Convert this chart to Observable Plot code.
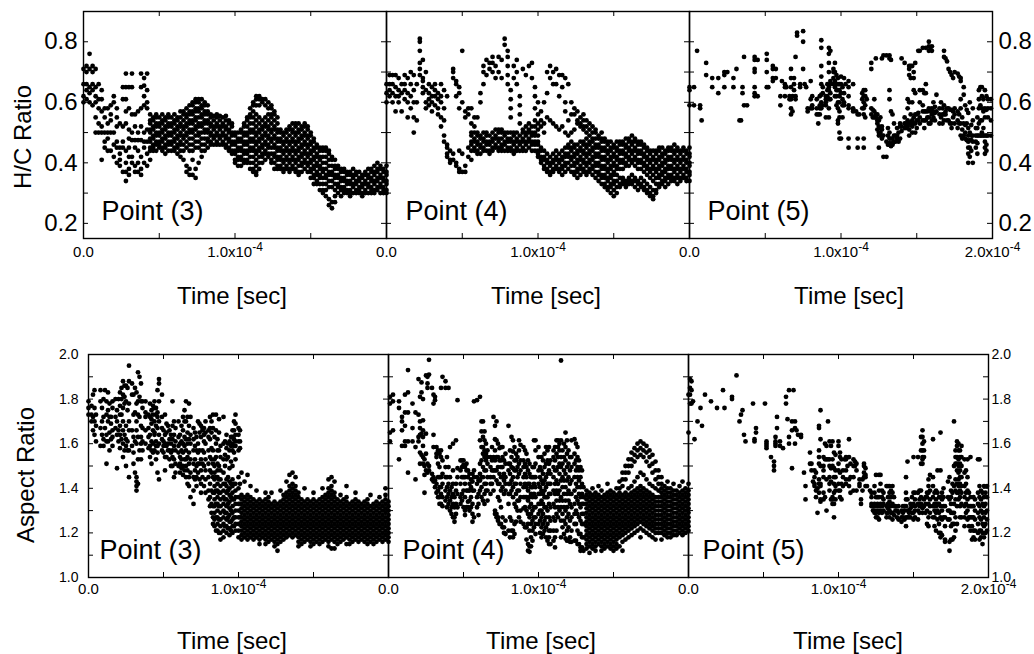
<!DOCTYPE html>
<html><head><meta charset="utf-8">
<script src="https://cdn.jsdelivr.net/npm/d3@7"></script>
<script src="https://cdn.jsdelivr.net/npm/@observablehq/plot@0.6"></script>
<style>
body{margin:0;background:#fff;}
#fig{position:relative;width:1034px;height:654px;overflow:hidden;background:#fff;}
</style></head><body><div id="fig"></div>
<script>
// time in microseconds, then the values observed at that time
const hc3 = [
[0,[.71,.66,.62,.60]],[2,[.70,.72,.66,.64,.61]],[4,[.76,.71,.65,.60,.63]],[6,[.72,.70,.64,.59,.66]],[8,[.71,.65,.62,.60,.55,.50]],[10,[.66,.61,.58,.53,.50]],[12,[.64,.61,.57,.52,.50,.41]],[14,[.58,.55,.50,.47,.45]],[16,[.58,.53,.50,.48,.44]],[18,[.59,.56,.54,.50,.44]],[20,[.62,.60,.50,.46,.42]],[22,[.58,.55,.52,.47,.45,.40]],[24,[.53,.45,.43,.41,.39]],[26,[.65,.61,.52,.47,.45,.37]],[28,[.695,.65,.61,.57,.53,.44,.40,.37,.34]],[30,[.65,.58,.51,.48,.45,.42,.38,.36]],[32,[.695,.65,.56,.50,.475,.42,.40]],[34,[.56,.52,.475,.45,.39,.37]],[36,[.57,.50,.475,.44,.40,.37]],[38,[.695,.65,.58,.52,.475,.42,.38,.36]],[40,[.68,.655,.62,.59,.50,.47,.45,.40]],[42,[.695,.64,.60,.58,.51,.47,.43,.39]],
[44,[.56,.54,.53,.51,.50,.48,.47,.45,.44,.41]],[46,[.55,.54,.52,.51,.49,.48,.46,.45,.44]],[48,[.56,.55,.53,.52,.50,.49,.47,.46,.44]],[50,[.55,.53,.52,.50,.49,.47,.46,.45]],[52,[.56,.54,.53,.51,.50,.48,.47,.45,.44]],[54,[.55,.54,.52,.51,.49,.48,.46,.45,.43]],[56,[.56,.55,.53,.52,.50,.49,.47,.46,.44]],[58,[.55,.53,.52,.50,.49,.47,.46,.44]],[60,[.56,.54,.53,.51,.50,.48,.47,.45,.44]],[62,[.55,.54,.52,.51,.49,.48,.46,.45,.43]],[64,[.57,.55,.53,.52,.50,.49,.47,.46,.44,.42]],[66,[.57,.56,.54,.52,.51,.49,.48,.46,.44,.41]],[68,[.58,.56,.55,.53,.52,.50,.49,.47,.45,.39,.37]],[70,[.59,.57,.56,.54,.53,.51,.50,.48,.46,.44,.38,.36]],[72,[.60,.59,.57,.56,.54,.53,.51,.50,.48,.46,.44,.41,.36]],[74,[.61,.60,.58,.57,.55,.54,.52,.51,.49,.47,.45,.38,.35]],[76,[.61,.60,.58,.57,.55,.53,.52,.50,.49,.47,.45,.40]],[78,[.61,.59,.58,.56,.55,.53,.52,.50,.48,.46,.44,.42]],[80,[.60,.59,.57,.56,.54,.53,.51,.50,.48,.46,.44]],[82,[.59,.57,.56,.54,.53,.51,.50,.48,.47,.45]],[84,[.56,.55,.53,.52,.50,.49,.47,.46]],[86,[.555,.54,.52,.51,.49,.48,.46]],[88,[.56,.55,.53,.52,.50,.49,.47,.46]],[90,[.555,.54,.52,.51,.49,.48,.46]],[92,[.55,.53,.52,.50,.49,.47,.46]],[94,[.555,.54,.52,.51,.49,.48,.46,.45]],[96,[.54,.53,.51,.50,.48,.47,.45,.44]],[98,[.53,.52,.50,.49,.47,.46,.44,.43]],
[100,[.50,.49,.47,.46,.44,.43,.41,.40]],[102,[.50,.48,.47,.45,.44,.42,.41,.39]],[104,[.51,.50,.48,.47,.45,.44,.42,.41,.39]],[106,[.53,.52,.50,.49,.47,.46,.44,.43,.41,.40]],[108,[.55,.54,.52,.50,.49,.47,.46,.44,.43,.41,.40]],[110,[.58,.56,.55,.53,.51,.50,.48,.47,.45,.44,.42,.40,.38]],[112,[.60,.59,.57,.55,.53,.51,.50,.48,.47,.45,.44,.42,.40,.38,.37]],[114,[.62,.61,.59,.56,.54,.52,.50,.49,.47,.46,.44,.43,.41,.39,.37,.36]],[116,[.62,.61,.59,.55,.53,.51,.50,.48,.47,.45,.44,.42,.40,.38]],[118,[.61,.60,.54,.52,.51,.49,.48,.46,.45,.43,.42,.40]],[120,[.61,.59,.55,.53,.52,.50,.49,.47,.46,.44,.43,.41]],[122,[.60,.58,.56,.54,.52,.51,.49,.48,.46,.45,.43,.42]],[124,[.59,.58,.56,.55,.53,.51,.50,.48,.47,.45,.43,.41,.40]],[126,[.57,.56,.54,.52,.51,.49,.48,.46,.45,.43,.42,.40,.38]],[128,[.55,.53,.51,.50,.48,.47,.45,.44,.42,.41,.39,.38]],[130,[.51,.50,.48,.47,.45,.44,.42,.41,.39,.38]],[132,[.50,.49,.47,.46,.44,.43,.41,.40,.38,.37]],[134,[.51,.50,.48,.47,.45,.44,.42,.41,.39,.38]],[136,[.52,.51,.49,.47,.46,.44,.43,.41,.40,.38,.37]],[138,[.53,.51,.50,.48,.47,.45,.44,.42,.41,.39,.38]],[140,[.53,.52,.50,.49,.47,.46,.44,.43,.41,.40,.38,.37]],[142,[.53,.51,.50,.48,.47,.45,.44,.42,.41,.39,.37,.36]],[144,[.52,.51,.49,.48,.46,.45,.43,.42,.40,.39,.37]],[146,[.53,.52,.50,.49,.47,.46,.44,.43,.41,.40,.38]],[148,[.52,.51,.49,.48,.46,.45,.43,.42,.40,.39,.37]],[150,[.50,.49,.47,.46,.44,.43,.41,.40,.38,.37,.35]],[152,[.48,.47,.45,.44,.42,.41,.39,.38,.36,.35,.33]],[154,[.46,.45,.43,.42,.40,.39,.37,.36,.34,.33]],[156,[.45,.44,.42,.41,.39,.38,.36,.35,.33,.31]],[158,[.45,.44,.42,.40,.38,.37,.35,.33,.31,.30]],[160,[.45,.44,.42,.40,.38,.36,.35,.33,.31,.29]],[162,[.44,.43,.41,.39,.37,.36,.34,.32,.28,.26]],[164,[.42,.41,.39,.37,.36,.34,.32,.27,.25]],[166,[.41,.39,.38,.36,.35,.33,.31,.29,.27]],[168,[.39,.38,.36,.35,.33,.32,.30]],[170,[.38,.37,.35,.34,.32,.31,.29]],[172,[.38,.37,.35,.34,.32,.31,.30]],[174,[.37,.36,.34,.33,.31,.30]],[176,[.37,.36,.34,.33,.31,.30,.29]],[178,[.38,.36,.35,.33,.32,.30]],[180,[.37,.36,.34,.33,.31,.30]],[182,[.37,.35,.34,.32,.31,.30]],[184,[.36,.35,.33,.32,.30,.29]],[186,[.37,.36,.34,.33,.31,.30]],[188,[.38,.36,.35,.33,.32,.30]],[190,[.38,.37,.35,.34,.32,.31,.30]],[192,[.39,.37,.36,.34,.33,.31,.30]],[194,[.40,.38,.37,.35,.34,.32,.31]],[196,[.39,.38,.36,.35,.33,.32,.30]],[198,[.38,.37,.35,.34,.32,.31,.30]],[200,[.39,.37,.36,.34,.33,.31,.30]]
];
const hc4 = [
[0,[.66,.63,.60]],[2,[.69,.66,.64,.62]],[4,[.69,.66,.63,.60]],[6,[.69,.65,.62,.57]],[8,[.68,.64,.62,.60]],[10,[.66,.63,.57]],[12,[.69,.66,.64,.61]],[14,[.68,.63,.60,.55]],[16,[.70,.66,.62,.58]],[18,[.69,.64,.60,.55,.50]],[20,[.66,.60,.54]],[22,[.81,.80,.77,.73,.71,.69]],[24,[.74,.68,.67,.65,.63]],[26,[.70,.64,.60,.58]],[28,[.66,.63,.61,.59]],[30,[.65,.62,.60,.57]],[32,[.66,.64,.62,.59]],[34,[.63,.61,.58,.56]],[36,[.66,.62,.60,.55,.52]],[38,[.64,.58,.54,.49,.47]],[40,[.62,.46,.45,.43,.42]],[42,[.44,.41,.40]],[44,[.71,.70,.68,.43,.41]],[46,[.67,.66,.62,.40,.39]],[48,[.65,.63,.58,.44,.38,.37]],[50,[.77,.60,.43,.37]],[52,[.57,.55,.39,.37]],[54,[.58,.56,.45,.42]],
[56,[.58,.53,.50,.49,.47,.46,.44,.41]],[58,[.55,.52,.50,.48,.47,.45,.44]],[60,[.55,.50,.49,.47,.46,.44,.43]],[62,[.63,.60,.49,.48,.46,.45,.43]],[64,[.72,.70,.66,.50,.48,.47,.45,.44]],[66,[.74,.69,.50,.49,.47,.46,.44]],[68,[.73,.71,.49,.47,.46,.44,.43]],[70,[.75,.73,.70,.50,.48,.47,.45,.44]],[72,[.72,.68,.51,.49,.48,.46,.45]],[74,[.75,.70,.51,.50,.48,.47,.45,.44]],[76,[.74,.68,.51,.50,.48,.46,.45,.44]],[78,[.81,.79,.50,.49,.47,.46,.44]],[80,[.77,.75,.72,.69,.66,.50,.48,.47,.45,.44]],[82,[.64,.61,.58,.55,.50,.48,.47,.45,.44]],[84,[.72,.68,.50,.49,.47,.46,.44,.43]],[86,[.74,.70,.66,.50,.48,.47,.45,.44]],[88,[.62,.59,.56,.53,.49,.47,.46,.44]],[90,[.71,.51,.50,.48,.47,.45,.44]],[92,[.69,.52,.50,.49,.47,.46,.44]],[94,[.72,.53,.51,.50,.48,.47,.45]],[96,[.73,.68,.52,.50,.49,.47,.46,.44]],[98,[.65,.62,.58,.54,.52,.50,.49,.47,.46,.44]],
[100,[.60,.56,.53,.51,.49,.47,.46,.44,.43,.42]],[102,[.57,.54,.52,.45,.44,.42,.41,.40]],[104,[.60,.53,.50,.44,.42,.41,.39,.38]],[106,[.70,.63,.55,.43,.41,.40,.38,.37]],[108,[.72,.68,.54,.42,.40,.39,.37,.36]],[110,[.70,.66,.53,.43,.41,.40,.38,.37]],[112,[.71,.66,.52,.44,.42,.41,.39,.38]],[114,[.69,.62,.51,.43,.41,.40,.38,.37]],[116,[.69,.65,.52,.44,.42,.41,.39,.38,.36]],[118,[.68,.60,.57,.50,.45,.43,.42,.40,.39,.37]],[120,[.66,.54,.49,.46,.45,.43,.42,.40,.38]],[122,[.60,.56,.50,.47,.45,.44,.42,.41,.39,.37]],[124,[.58,.56,.51,.46,.45,.43,.42,.40,.39,.37,.36]],[126,[.57,.54,.53,.46,.44,.43,.41,.40,.38,.37,.35]],[128,[.55,.53,.52,.47,.45,.44,.42,.41,.39,.38,.36]],[130,[.56,.54,.52,.51,.47,.46,.44,.43,.41,.40,.38,.37]],[132,[.54,.52,.50,.48,.46,.45,.43,.42,.40,.39,.37,.36]],[134,[.53,.51,.49,.47,.46,.44,.43,.41,.40,.38,.37]],[136,[.52,.50,.48,.47,.45,.44,.42,.41,.39,.38,.36]],[138,[.51,.50,.48,.46,.45,.43,.42,.40,.39,.37,.35]],[140,[.49,.48,.46,.45,.43,.42,.40,.39,.37,.36,.34]],[142,[.50,.48,.47,.45,.44,.42,.41,.39,.38,.36,.35,.33]],[144,[.48,.47,.45,.44,.42,.41,.39,.38,.36,.35,.33,.32]],[146,[.47,.46,.44,.43,.41,.40,.38,.37,.35,.34,.32,.31]],[148,[.47,.45,.44,.42,.41,.39,.38,.36,.35,.33,.32,.30]],[150,[.46,.45,.43,.42,.40,.39,.37,.36,.34,.33,.31,.29]],[152,[.47,.45,.44,.42,.41,.39,.38,.36,.34,.32,.30]],[154,[.47,.46,.44,.43,.41,.40,.38,.35,.33,.32]],[156,[.47,.46,.44,.43,.41,.40,.38,.35,.34,.33]],[158,[.48,.46,.45,.43,.42,.40,.39,.34,.33,.32]],[160,[.48,.47,.45,.44,.42,.41,.39,.35,.34,.33]],[162,[.49,.47,.46,.44,.43,.41,.40,.36,.34,.33]],[164,[.48,.47,.45,.44,.42,.41,.39,.35,.34,.32]],[166,[.47,.46,.44,.43,.41,.40,.38,.34,.33,.31]],[168,[.47,.46,.44,.43,.41,.40,.38,.35,.33,.32]],[170,[.46,.45,.43,.42,.40,.39,.37,.34,.32,.31]],[172,[.45,.44,.42,.41,.39,.38,.36,.33,.31,.30]],[174,[.44,.43,.41,.40,.38,.37,.35,.32,.30,.29]],[176,[.44,.42,.41,.39,.38,.36,.34,.31,.29,.28]],[178,[.44,.43,.41,.40,.38,.37,.35,.33,.31,.30]],[180,[.45,.44,.42,.41,.39,.38,.36,.35,.33,.32]],[182,[.45,.43,.42,.40,.39,.37,.36,.34,.33]],[184,[.44,.43,.41,.40,.38,.37,.35,.34,.32]],[186,[.45,.44,.42,.41,.39,.38,.36,.35,.33]],[188,[.45,.44,.42,.41,.39,.38,.36,.35,.34]],[190,[.46,.44,.43,.41,.40,.38,.37,.35,.34]],[192,[.45,.44,.42,.41,.39,.38,.36,.35,.33]],[194,[.44,.43,.41,.40,.38,.37,.35,.34]],[196,[.45,.44,.42,.41,.39,.38,.36,.35]],[198,[.44,.43,.41,.40,.38,.37,.35,.34]],[200,[.45,.43,.42,.40,.39,.37,.36,.34]]
];
const hc5 = [
[0,[.65,.64,.59]],[3,[.65,.59]],[5,[.77]],[7,[.59,.58]],[8,[.54]],[11,[.73,.69]],[15,[.68,.65]],[19,[.68,.63]],[23,[.70,.69,.65]],[25,[.70]],[29,[.68,.65]],[31,[.71]],[33,[.54]],[34,[.54]],[35,[.65,.63]],[36,[.75,.59]],[38,[.59]],
[43,[.75,.74,.71,.70,.65,.63,.62]],[45,[.62,.74]],[51,[.76,.74,.70,.65]],[52,[.65]],[55,[.72,.71,.68,.67]],[57,[.71,.68]],[60,[.62,.59]],[61,[.67]],[63,[.66,.65,.62]],[64,[.65]],[66,[.62,.61]],[67,[.71,.68,.65,.61,.58,.56]],[68,[.62,.57]],[69,[.68,.66,.64]],[70,[.75,.62,.61]],[71,[.83,.82]],[73,[.66,.65]],[75,[.835,.80,.71]],[76,[.66]],[77,[.65]],[78,[.58,.57]],[80,[.67,.61,.58]],[81,[.62,.59,.58]],[84,[.61,.58,.56]],[85,[.53,.56]],[86,[.62,.59,.58,.56]],[87,[.805,.78,.72,.685,.66,.625,.60,.58]],[88,[.65,.63,.59]],[90,[.62,.61,.60,.59,.55]],[91,[.66,.64,.62]],[92,[.78,.76,.73,.70,.65,.64,.61,.58,.55]],[93,[.77,.67,.66,.63,.61]],[95,[.71,.70,.68,.66]],[96,[.73,.70,.67,.65,.62]],[97,[.69,.66,.64,.62,.59]],[98,[.68,.66,.64,.60,.58,.54,.53]],[99,[.66,.64,.62,.60,.57,.55,.50,.48]],[100,[.685,.66,.63,.48]],[101,[.65,.61,.59,.55]],[102,[.68,.63,.60,.59]],[103,[.66]],[105,[.67,.65,.62,.59,.58,.48,.45]],[108,[.66,.58,.575,.57]],[110,[.57]],[111,[.56,.48,.45]],[112,[.56]],[114,[.63,.61,.58]],[115,[.64,.62,.60,.58,.56,.48,.45]],[116,[.64,.62,.59,.55]],[117,[.61]],[120,[.73,.71,.58,.56]],[121,[.575,.55]],[122,[.61,.57,.55]],[123,[.745,.56,.55]],[124,[.56,.54,.53,.51]],[125,[.54,.52,.50,.49,.45]],[126,[.55,.515,.50]],[127,[.745,.52,.51,.49,.48]],[128,[.755,.49,.42]],[130,[.755,.47,.42]],[131,[.515,.49,.46]],[132,[.755,.745,.64,.61,.50,.48,.465,.46]],[133,[.74,.57,.48,.455]],[134,[.56,.48,.465,.46]],[135,[.53,.49,.47]],[136,[.49,.47]],[137,[.515,.49,.48]],[138,[.50,.47]],[139,[.53,.52,.48]],[140,[.745,.52,.505]],[142,[.73,.55,.53,.515]],[143,[.53,.52,.515]],[144,[.61,.58,.54,.52]],[145,[.72,.71,.69,.60,.53,.51,.49]],[146,[.72,.68,.56,.53]],[147,[.72,.60,.54,.52,.50]],[148,[.70,.68,.64,.55,.53]],[149,[.73,.63,.56,.53,.50]],[150,[.56,.54,.515]],[151,[.77,.565,.54]],[152,[.77,.64,.60,.55,.53]],[154,[.78,.64,.59,.57,.54]],[155,[.63,.57,.54,.515]],[156,[.78,.66,.63,.57,.54]],[157,[.57,.55]],[158,[.80,.785,.77,.58,.55,.53]],[159,[.78,.57,.53]],[160,[.785,.77,.58,.56,.54]],[161,[.60,.57,.55]],[162,[.585,.565,.54]],[163,[.625,.57]],[165,[.58,.56,.53]],[166,[.60,.55]],[167,[.58,.56,.53]],[168,[.77,.75,.59,.56,.54]],[169,[.745,.57,.56]],[170,[.735,.58,.54]],[171,[.71,.58,.54]],[172,[.70,.575,.53]],[173,[.69,.575,.53,.515]],[174,[.68,.57,.55]],[175,[.70,.58,.56,.53]],[177,[.695,.57,.54,.515]],[178,[.685,.56,.53]],[179,[.68,.67,.61,.58,.53,.49]],[180,[.55,.51,.48]],[181,[.65,.625,.53,.49]],[182,[.59,.525,.50,.48]],[183,[.575,.53,.475]],[184,[.565,.515,.49,.47,.45,.43,.40]],[185,[.60,.50,.475,.45,.42]],[186,[.525,.49,.475,.44]],[187,[.58,.54,.49,.47,.40]],[189,[.515,.49,.47,.45]],[190,[.55,.515,.49,.465,.43]],[191,[.64,.61,.58,.53,.49]],[192,[.65,.59,.54,.49]],[193,[.65,.62,.58,.54,.50,.49]],[194,[.61,.57,.515,.49]],[195,[.64,.58,.55,.49,.47,.45,.43]],[196,[.62,.575,.49,.46,.44]],[197,[.61,.58,.55,.49]],[199,[.61,.58,.54,.49]]
];
const ar3 = [
[0,[1.79,1.76,1.73]],[2,[1.77,1.73,1.70]],[3,[1.82,1.72,1.66]],[4,[1.84,1.76,1.70,1.64]],[5,[1.73,1.68,1.61]],[8,[1.84,1.79,1.67,1.59]],[9,[1.76,1.70,1.64]],[10,[1.80,1.72,1.62,1.59]],[11,[1.84,1.67]],[12,[1.79,1.73,1.64,1.61,1.51]],[13,[1.83,1.75,1.70,1.61]],[14,[1.78,1.72,1.65,1.57]],[15,[1.72,1.69,1.62]],[16,[1.79,1.76,1.66,1.63,1.59]],[18,[1.80,1.72,1.67]],[19,[1.75,1.70,1.64,1.49]],[20,[1.80,1.66,1.61]],[21,[1.83,1.77,1.73,1.68,1.64,1.58]],[22,[1.85,1.80,1.73,1.62]],[23,[1.88,1.82,1.76,1.70,1.66,1.60,1.54]],[24,[1.86,1.81,1.78,1.64,1.57]],[25,[1.86,1.79,1.68,1.62,1.59,1.50]],[26,[1.85,1.75,1.61,1.57]],[27,[1.95,1.88,1.78,1.70,1.66,1.57,1.45]],[29,[1.87,1.82,1.66,1.59]],[30,[1.82,1.73,1.63,1.56,1.51]],[31,[1.85,1.74,1.61,1.47]],[32,[1.83,1.78,1.70,1.66,1.60,1.45,1.43,1.41,1.39]],[33,[1.92,1.79,1.73,1.63,1.53,1.42]],[34,[1.90,1.81,1.72,1.57]],[35,[1.87,1.79,1.68,1.63,1.60,1.53]],[36,[1.79,1.76,1.67,1.61,1.57]],[38,[1.79,1.74,1.72,1.66,1.60]],[40,[1.73,1.67,1.63,1.58]],[41,[1.78,1.72,1.64,1.59,1.54]],[42,[1.75,1.71,1.69,1.61,1.57,1.51]],[43,[1.77,1.73,1.66,1.60,1.56]],[44,[1.79,1.76,1.70,1.65,1.64,1.57]],[45,[1.76,1.73,1.68,1.61,1.59,1.53]],[46,[1.84,1.74,1.72,1.67,1.59,1.56,1.47]],[47,[1.89,1.87,1.79,1.70,1.64,1.60,1.44]],[49,[1.82,1.72,1.67,1.62,1.57]],[50,[1.66,1.61,1.59,1.56]],[51,[1.73,1.64,1.60,1.54,1.48]],[52,[1.69,1.65,1.59,1.54]],[53,[1.68,1.60,1.57]],[54,[1.66,1.62,1.57,1.53]],[55,[1.64,1.60,1.56,1.50]],[56,[1.79,1.68,1.62,1.57,1.54,1.50]],[57,[1.70,1.64,1.59,1.53,1.45]],[58,[1.67,1.61,1.57,1.51,1.47]],[60,[1.70,1.63,1.59,1.56,1.50]],[61,[1.64,1.60,1.54,1.51,1.47]],[62,[1.68,1.61,1.57,1.53,1.49]],[63,[1.72,1.66,1.60,1.56,1.50,1.46]],[64,[1.75,1.70,1.63,1.59,1.53,1.48]],[65,[1.79,1.70,1.62,1.57,1.53,1.50,1.45]],[66,[1.72,1.65,1.60,1.54,1.48,1.42]],[67,[1.78,1.68,1.62,1.56,1.51,1.45,1.41]],[68,[1.72,1.64,1.60,1.53,1.47,1.36]],[70,[1.67,1.62,1.57,1.51,1.45,1.39,1.33]],[71,[1.65,1.59,1.53,1.48,1.44]],[72,[1.63,1.57,1.50,1.45,1.41]],[73,[1.70,1.60,1.56,1.51,1.47]],[74,[1.69,1.65,1.57,1.51,1.44]],[75,[1.68,1.63,1.53,1.48,1.42,1.38]],[76,[1.67,1.66,1.57,1.51,1.45]],[77,[1.67,1.64,1.61,1.56,1.50,1.41]],[78,[1.70,1.65,1.60,1.53,1.48,1.44,1.38]],[80,[1.66,1.63,1.57,1.51,1.45,1.39,1.35]],[81,[1.72,1.67,1.62,1.54,1.48,1.42,1.36,1.32]],[82,[1.70,1.65,1.58,1.53,1.47,1.39,1.33,1.29]],[83,[1.73,1.67,1.57,1.51,1.45,1.38,1.32,1.27,1.24]],
[84,[1.63,1.53,1.50,1.47,1.44,1.41,1.38,1.35,1.32,1.29,1.26,1.23]],[85,[1.73,1.66,1.60,1.54,1.45,1.39,1.33,1.27,1.21]],[86,[1.62,1.57,1.51,1.48,1.45,1.42,1.39,1.36,1.33,1.30,1.27,1.24,1.21]],[87,[1.71,1.65,1.57,1.50,1.44,1.38,1.32,1.26,1.20]],[88,[1.59,1.54,1.48,1.44,1.41,1.38,1.35,1.32,1.29,1.26,1.23,1.20,1.17]],[90,[1.72,1.60,1.53,1.47,1.42,1.39,1.36,1.33,1.30,1.27,1.24,1.21,1.18]],[91,[1.61,1.55,1.50,1.42,1.35,1.29,1.23]],[92,[1.64,1.58,1.53,1.44,1.41,1.38,1.35,1.32,1.29,1.26,1.23,1.20]],[93,[1.60,1.54,1.45,1.39,1.33,1.27,1.22]],[94,[1.61,1.57,1.49,1.43,1.40,1.37,1.34,1.31,1.28,1.25,1.22,1.19]],[95,[1.63,1.59,1.52,1.42,1.36,1.30,1.25,1.21]],[96,[1.66,1.63,1.60,1.57,1.50,1.44,1.41,1.38,1.35,1.32,1.29,1.26,1.23,1.20]],[97,[1.70,1.66,1.62,1.59,1.56,1.42,1.35,1.27,1.23]],[98,[1.73,1.69,1.64,1.61,1.59,1.53,1.42,1.39,1.36,1.33,1.30,1.27,1.24,1.21]],[100,[1.67,1.64,1.61,1.57,1.45,1.40,1.36,1.33,1.30,1.27,1.24,1.21,1.18]],[101,[1.66,1.61,1.58,1.42,1.33,1.27]],
[102,[1.47,1.37,1.35,1.33,1.31,1.29,1.27,1.25,1.23,1.21,1.19,1.17]],[104,[1.43,1.36,1.34,1.32,1.30,1.28,1.26,1.24,1.22,1.20,1.18]],[106,[1.46,1.37,1.35,1.33,1.31,1.29,1.27,1.25,1.23,1.21,1.19,1.17]],[108,[1.41,1.36,1.34,1.32,1.30,1.28,1.26,1.24,1.22,1.20,1.18]],[110,[1.35,1.33,1.31,1.29,1.27,1.25,1.23,1.21,1.19,1.17]],[112,[1.39,1.34,1.32,1.30,1.28,1.26,1.24,1.22,1.20,1.18]],[114,[1.35,1.33,1.31,1.29,1.27,1.25,1.23,1.21,1.19,1.17,1.15]],[116,[1.34,1.32,1.30,1.28,1.26,1.24,1.22,1.20,1.18]],[118,[1.38,1.35,1.33,1.31,1.29,1.27,1.25,1.23,1.21,1.19,1.17,1.15]],[120,[1.36,1.34,1.32,1.30,1.28,1.26,1.24,1.22,1.20,1.18,1.16]],[122,[1.38,1.33,1.31,1.29,1.27,1.25,1.23,1.21,1.19,1.17]],[124,[1.34,1.32,1.30,1.28,1.26,1.24,1.22,1.20,1.18,1.16,1.14]],[126,[1.33,1.31,1.29,1.27,1.25,1.23,1.21,1.19,1.17,1.15,1.12]],[128,[1.39,1.34,1.32,1.30,1.28,1.26,1.24,1.22,1.20,1.18,1.16]],[130,[1.37,1.35,1.33,1.31,1.29,1.27,1.25,1.23,1.21,1.19,1.17]],[132,[1.43,1.38,1.36,1.34,1.32,1.30,1.28,1.26,1.24,1.22,1.20,1.18]],[134,[1.46,1.41,1.39,1.37,1.35,1.33,1.31,1.29,1.27,1.25,1.23,1.21,1.19]],[136,[1.47,1.42,1.40,1.38,1.36,1.34,1.32,1.30,1.28,1.26,1.24,1.22,1.20,1.18]],[138,[1.45,1.41,1.39,1.37,1.35,1.33,1.31,1.29,1.27,1.25,1.23,1.21,1.19]],[140,[1.38,1.36,1.34,1.32,1.30,1.28,1.26,1.24,1.22,1.20,1.18,1.16,1.14]],[142,[1.35,1.33,1.31,1.29,1.27,1.25,1.23,1.21,1.19,1.17,1.15]],[144,[1.40,1.34,1.32,1.30,1.28,1.26,1.24,1.22,1.20,1.18,1.16]],[146,[1.35,1.33,1.31,1.29,1.27,1.25,1.23,1.21,1.19,1.17]],[148,[1.34,1.32,1.30,1.28,1.26,1.24,1.22,1.20,1.18,1.16,1.14]],[150,[1.38,1.35,1.33,1.31,1.29,1.27,1.25,1.23,1.21,1.19,1.17,1.15]],[152,[1.34,1.32,1.30,1.28,1.26,1.24,1.22,1.20,1.18,1.16]],[154,[1.35,1.33,1.31,1.29,1.27,1.25,1.23,1.21,1.19,1.17,1.15]],[156,[1.40,1.36,1.34,1.32,1.30,1.28,1.26,1.24,1.22,1.20,1.18,1.16]],[158,[1.37,1.35,1.33,1.31,1.29,1.27,1.25,1.23,1.21,1.19,1.17]],[160,[1.44,1.40,1.38,1.36,1.34,1.32,1.30,1.28,1.26,1.24,1.22,1.20,1.18,1.16,1.14]],[162,[1.45,1.41,1.39,1.37,1.35,1.33,1.31,1.29,1.27,1.25,1.23,1.21,1.19,1.17,1.13]],[164,[1.43,1.38,1.36,1.34,1.32,1.30,1.28,1.26,1.24,1.22,1.20,1.18,1.16,1.13]],[166,[1.35,1.33,1.31,1.29,1.27,1.25,1.23,1.21,1.19,1.17,1.15]],[168,[1.37,1.34,1.32,1.30,1.28,1.26,1.24,1.22,1.20,1.18,1.16]],[170,[1.35,1.33,1.31,1.29,1.27,1.25,1.23,1.21,1.19,1.17]],[172,[1.41,1.36,1.34,1.32,1.30,1.28,1.26,1.24,1.22,1.20,1.18,1.15]],[174,[1.33,1.31,1.29,1.27,1.25,1.23,1.21,1.19,1.17,1.15]],[176,[1.34,1.32,1.30,1.28,1.26,1.24,1.22,1.20,1.18,1.16]],[178,[1.38,1.35,1.33,1.31,1.29,1.27,1.25,1.23,1.21,1.19,1.17]],[180,[1.34,1.32,1.30,1.28,1.26,1.24,1.22,1.20,1.18,1.16]],[182,[1.33,1.31,1.29,1.27,1.25,1.23,1.21,1.19,1.17]],[184,[1.34,1.32,1.30,1.28,1.26,1.24,1.22,1.20,1.18,1.16]],[186,[1.35,1.33,1.31,1.29,1.27,1.25,1.23,1.21,1.19,1.17,1.15]],[188,[1.37,1.32,1.30,1.28,1.26,1.24,1.22,1.20,1.18,1.16]],[190,[1.33,1.31,1.29,1.27,1.25,1.23,1.21,1.19,1.17,1.15]],[192,[1.34,1.32,1.30,1.28,1.26,1.24,1.22,1.20,1.18,1.16]],[194,[1.36,1.33,1.31,1.29,1.27,1.25,1.23,1.21,1.19,1.17]],[196,[1.34,1.32,1.30,1.28,1.26,1.24,1.22,1.20,1.18,1.16]],[198,[1.40,1.37,1.35,1.33,1.31,1.29,1.27,1.25,1.23,1.21,1.19,1.17]],[200,[1.34,1.32,1.30,1.28,1.26,1.24,1.22,1.20,1.18,1.16]]
];
const ar4 = [
[1,[1.81,1.78,1.65,1.61]],[3,[1.82,1.79,1.66]],[7,[1.79,1.76,1.53]],[9,[1.72,1.70,1.66,1.59]],[11,[1.82,1.74,1.68,1.61,1.59]],[13,[1.93,1.83,1.74,1.61,1.47]],[16,[1.78,1.67,1.61]],[18,[1.74,1.585,1.44]],[20,[1.89,1.73,1.63,1.61]],[21,[1.81,1.70,1.67,1.64,1.56,1.51]],[22,[1.875,1.83,1.645,1.55]],[23,[1.80,1.705,1.66,1.63,1.59,1.54,1.51]],[24,[1.53,1.50,1.46,1.38]],[25,[1.906,1.645,1.555,1.48]],[26,[1.90,1.87,1.85,1.51,1.47]],[27,[1.976,1.91,1.50,1.48]],[29,[1.85,1.465,1.44]],[30,[1.82,1.78,1.64,1.585,1.45,1.43]],[31,[1.81,1.795,1.435,1.405]],[32,[1.585,1.555,1.54,1.42,1.38]],[33,[1.57,1.51,1.45,1.39,1.36]],[34,[1.555,1.495,1.45,1.405,1.36,1.33]],[35,[1.85,1.57,1.54,1.45,1.405,1.375,1.33]],[36,[1.90,1.525,1.465,1.42,1.36,1.32]],[38,[1.88,1.85,1.495,1.45,1.39,1.345]],[39,[1.54,1.45,1.405,1.36,1.315]],[40,[1.85,1.495,1.42,1.375,1.33]],[41,[1.585,1.45,1.39,1.345,1.30]],[42,[1.405,1.36,1.315,1.285]],[43,[1.60,1.48,1.42,1.375,1.33,1.27]],[44,[1.36,1.315,1.27,1.25]],[45,[1.615,1.42,1.39,1.33,1.285]],[46,[1.795,1.49,1.45,1.375,1.315]],[48,[1.525,1.48,1.42,1.36,1.33]],[49,[1.525,1.495,1.45,1.375,1.345]],[50,[1.525,1.505,1.45,1.39,1.315]],[51,[1.495,1.45,1.42,1.36,1.30,1.28]],[52,[1.51,1.48,1.39,1.315]],[53,[1.48,1.45,1.39,1.34,1.315]],[54,[1.465,1.42,1.39,1.345,1.30]],[55,[1.44,1.405,1.36,1.315]],[56,[1.465,1.43,1.39,1.33,1.285,1.25]],[57,[1.79,1.48,1.45,1.39,1.27]],[59,[1.795,1.45,1.42,1.36,1.315]],[60,[1.435,1.375,1.33,1.28]],[61,[1.81,1.615,1.51,1.465,1.435,1.39]],[62,[1.70,1.655,1.585,1.525,1.45,1.405,1.36]],[63,[1.70,1.63,1.585,1.555,1.495,1.45,1.345]],[64,[1.655,1.615,1.57,1.54,1.48,1.42,1.375,1.33]],[65,[1.60,1.555,1.525,1.48,1.42,1.39]],[66,[1.57,1.54,1.51,1.45,1.39,1.345]],[68,[1.54,1.495,1.45,1.42,1.375]],[69,[1.585,1.525,1.48,1.42]],[70,[1.72,1.54,1.48,1.45,1.39]],[71,[1.68,1.62,1.57,1.525,1.48,1.30,1.285]],[72,[1.70,1.615,1.54,1.48,1.435,1.285,1.27]],[73,[1.60,1.54,1.495,1.42,1.36,1.27,1.255]],[74,[1.58,1.525,1.465,1.42,1.345,1.24]],[75,[1.585,1.525,1.495,1.45,1.39,1.315,1.24]],[76,[1.585,1.54,1.495,1.45,1.405,1.27,1.225]],[77,[1.525,1.465,1.435,1.375,1.225,1.20]],[78,[1.555,1.51,1.45,1.42,1.39,1.255,1.195]],[80,[1.68,1.51,1.48,1.42,1.375,1.33,1.21]],[81,[1.57,1.51,1.465,1.42,1.375,1.27,1.18]],[82,[1.63,1.54,1.495,1.435,1.39,1.255,1.21]],[83,[1.615,1.565,1.49,1.45,1.405,1.36,1.21,1.18]],[84,[1.585,1.525,1.48,1.42,1.33,1.24,1.195]],[85,[1.555,1.525,1.48,1.42,1.375,1.315,1.25]],[86,[1.54,1.495,1.45,1.39,1.345,1.30]],[87,[1.615,1.57,1.51,1.465,1.39,1.345,1.27]],[88,[1.595,1.525,1.48,1.42,1.36,1.30,1.25]],[90,[1.585,1.525,1.495,1.45,1.405,1.36,1.31,1.24]],[91,[1.57,1.51,1.465,1.42,1.36,1.315,1.225]],[92,[1.555,1.495,1.45,1.405,1.36,1.30,1.225,1.17]],[93,[1.525,1.48,1.42,1.39,1.345,1.285,1.24,1.15,1.12]],[94,[1.51,1.465,1.42,1.36,1.315,1.27,1.21,1.14,1.115]],[95,[1.45,1.405,1.375,1.33,1.285,1.24,1.18,1.14]],[96,[1.495,1.45,1.405,1.36,1.30,1.255,1.21,1.165]],[97,[1.615,1.495,1.45,1.42,1.375,1.315,1.27,1.225]],[98,[1.615,1.57,1.51,1.45,1.405,1.36,1.315,1.27,1.24,1.195]],[100,[1.585,1.54,1.48,1.42,1.375,1.33,1.285,1.24]],[101,[1.495,1.45,1.405,1.375,1.33,1.30,1.255,1.20]],[102,[1.54,1.48,1.435,1.39,1.345,1.30,1.27,1.225,1.18]],[103,[1.525,1.465,1.42,1.375,1.33,1.285,1.24,1.195]],[104,[1.555,1.495,1.435,1.39,1.36,1.315,1.255,1.21]],[105,[1.585,1.51,1.45,1.405,1.36,1.315,1.27,1.225,1.18]],[106,[1.57,1.525,1.465,1.42,1.36,1.30,1.24,1.165]],[107,[1.585,1.51,1.48,1.42,1.375,1.33,1.27,1.21,1.18,1.15]],[108,[1.525,1.465,1.42,1.375,1.315,1.255,1.21,1.15]],[110,[1.57,1.54,1.495,1.45,1.39,1.33,1.27,1.21,1.165]],[111,[1.585,1.525,1.48,1.42,1.375,1.315,1.255,1.18,1.135]],[112,[1.615,1.555,1.48,1.435,1.39,1.345,1.285,1.21]],[113,[1.615,1.585,1.54,1.495,1.42,1.375,1.315,1.27]],[114,[1.60,1.57,1.51,1.465,1.39,1.345,1.30]],[115,[1.973,1.615,1.54,1.495,1.435,1.36,1.315,1.255,1.18]],[116,[1.57,1.51,1.45,1.405,1.345,1.285,1.225]],[117,[1.60,1.54,1.48,1.435,1.375,1.315,1.255,1.195]],[118,[1.65,1.585,1.525,1.465,1.405,1.345,1.30,1.24,1.175]],[119,[1.615,1.555,1.495,1.435,1.375,1.315,1.27,1.21,1.165]],[120,[1.57,1.51,1.45,1.39,1.345,1.285,1.225,1.165]],[121,[1.54,1.48,1.42,1.375,1.33,1.255,1.18,1.16]],[122,[1.615,1.54,1.495,1.435,1.375,1.315,1.27,1.21,1.16]],[124,[1.62,1.555,1.51,1.45,1.39,1.33,1.285,1.24,1.165]],[125,[1.60,1.525,1.48,1.42,1.36,1.30,1.24,1.165]],[126,[1.585,1.54,1.495,1.45,1.405,1.345,1.285,1.21,1.15]],[127,[1.525,1.48,1.435,1.375,1.33,1.27,1.195,1.15]],[128,[1.495,1.45,1.405,1.36,1.315,1.255,1.195,1.135,1.12]],[129,[1.48,1.42,1.375,1.33,1.285,1.24,1.18,1.135]],[130,[1.405,1.36,1.33,1.285,1.24,1.18,1.12]],
[132,[1.39,1.37,1.35,1.33,1.31,1.29,1.27,1.25,1.23,1.21,1.19,1.17,1.15,1.13]],[134,[1.38,1.36,1.34,1.32,1.30,1.28,1.26,1.24,1.22,1.20,1.18,1.16,1.14,1.11]],[136,[1.40,1.37,1.35,1.33,1.31,1.29,1.27,1.25,1.23,1.21,1.19,1.17,1.15,1.13]],[138,[1.38,1.36,1.34,1.32,1.30,1.28,1.26,1.24,1.22,1.20,1.18,1.16,1.14,1.12]],[140,[1.41,1.37,1.35,1.33,1.31,1.29,1.27,1.25,1.23,1.21,1.19,1.17,1.15]],[142,[1.39,1.36,1.34,1.32,1.30,1.28,1.26,1.24,1.22,1.20,1.18,1.16,1.14,1.12]],[144,[1.37,1.35,1.33,1.31,1.29,1.27,1.25,1.23,1.21,1.19,1.17,1.15,1.13]],[146,[1.42,1.38,1.36,1.34,1.32,1.30,1.28,1.26,1.24,1.22,1.20,1.18,1.16,1.14]],[148,[1.39,1.37,1.35,1.33,1.31,1.29,1.27,1.25,1.23,1.21,1.19,1.17,1.15,1.13]],[150,[1.38,1.36,1.34,1.32,1.30,1.28,1.26,1.24,1.22,1.20,1.18,1.16,1.14,1.12]],[152,[1.40,1.37,1.35,1.33,1.31,1.29,1.27,1.25,1.23,1.21,1.19,1.17,1.15,1.13]],[154,[1.43,1.40,1.38,1.36,1.34,1.32,1.30,1.28,1.26,1.24,1.22,1.20,1.18,1.14]],[156,[1.47,1.44,1.41,1.37,1.35,1.33,1.31,1.29,1.27,1.25,1.23,1.21,1.19,1.16,1.12]],[158,[1.50,1.47,1.44,1.38,1.36,1.34,1.32,1.30,1.28,1.26,1.24,1.22,1.20,1.17]],[160,[1.53,1.50,1.47,1.40,1.37,1.35,1.33,1.31,1.29,1.27,1.25,1.23,1.21,1.18]],[162,[1.56,1.53,1.50,1.41,1.38,1.36,1.34,1.32,1.30,1.28,1.26,1.24,1.22,1.19]],[164,[1.58,1.55,1.52,1.43,1.39,1.37,1.35,1.33,1.31,1.29,1.27,1.25,1.23,1.20]],[166,[1.60,1.57,1.54,1.45,1.40,1.38,1.36,1.34,1.32,1.30,1.28,1.26,1.24,1.21]],[168,[1.61,1.58,1.55,1.47,1.41,1.39,1.37,1.35,1.33,1.31,1.29,1.27,1.25,1.22,1.18]],[170,[1.60,1.57,1.54,1.46,1.40,1.38,1.36,1.34,1.32,1.30,1.28,1.26,1.24,1.21]],[172,[1.59,1.56,1.52,1.44,1.39,1.37,1.35,1.33,1.31,1.29,1.27,1.25,1.23,1.20]],[174,[1.57,1.54,1.50,1.42,1.38,1.36,1.34,1.32,1.30,1.28,1.26,1.24,1.22,1.19]],[176,[1.55,1.51,1.47,1.41,1.37,1.35,1.33,1.31,1.29,1.27,1.25,1.23,1.21,1.18]],[178,[1.52,1.48,1.44,1.40,1.36,1.34,1.32,1.30,1.28,1.26,1.24,1.22,1.20,1.17]],[180,[1.48,1.45,1.42,1.39,1.36,1.34,1.32,1.30,1.28,1.26,1.24,1.22,1.20]],[182,[1.45,1.42,1.40,1.38,1.36,1.34,1.32,1.30,1.28,1.26,1.24,1.22,1.20,1.17]],[184,[1.41,1.39,1.37,1.35,1.33,1.31,1.29,1.27,1.25,1.23,1.21,1.19]],[186,[1.43,1.40,1.38,1.36,1.34,1.32,1.30,1.28,1.26,1.24,1.22,1.20,1.18]],[188,[1.40,1.38,1.36,1.34,1.32,1.30,1.28,1.26,1.24,1.22,1.20,1.18]],[190,[1.42,1.39,1.37,1.35,1.33,1.31,1.29,1.27,1.25,1.23,1.21,1.19]],[192,[1.39,1.37,1.35,1.33,1.31,1.29,1.27,1.25,1.23,1.21,1.19]],[194,[1.41,1.38,1.36,1.34,1.32,1.30,1.28,1.26,1.24,1.22,1.20]],[196,[1.43,1.39,1.37,1.35,1.33,1.31,1.29,1.27,1.25,1.23,1.21,1.19]],[198,[1.40,1.38,1.36,1.34,1.32,1.30,1.28,1.26,1.24,1.22,1.20]],[200,[1.42,1.39,1.37,1.35,1.33,1.31,1.29,1.27,1.25,1.23,1.21]]
];
const ar5 = [
[0,[1.82,1.65]],[1,[1.89,1.85,1.82,1.78]],[2,[1.88,1.84,1.78]],[3,[1.79]],[4,[1.62]],[6,[1.70]],[8,[1.76]],[9,[1.68]],[11,[1.82]],[15,[1.79]],[19,[1.76]],[23,[1.84]],[24,[1.76]],[29,[1.81,1.80]],[32,[1.906]],[34,[1.70]],[35,[1.73]],[36,[1.75]],[37,[1.64]],[38,[1.61]],[43,[1.78]],[44,[1.62,1.61]],[45,[1.67,1.65]],[51,[1.78]],[52,[1.61,1.60,1.59,1.58]],[55,[1.54]],[57,[1.52,1.50,1.48]],[58,[1.63,1.61,1.60,1.59]],[59,[1.72,1.67]],[61,[1.61,1.59]],[63,[1.58]],[65,[1.81,1.78]],[66,[1.71]],[67,[1.84,1.63,1.60]],[69,[1.70,1.66,1.49]],[70,[1.84]],[71,[1.70,1.67,1.60]],[72,[1.66]],[73,[1.64]],[75,[1.64,1.63]],[77,[1.47]],[78,[1.41,1.35]],[81,[1.56,1.51]],[82,[1.51,1.48]],[83,[1.43]],[84,[1.48,1.45,1.42,1.41]],[85,[1.47,1.39,1.36]],[86,[1.40,1.29]],[87,[1.68,1.67,1.57,1.54,1.51,1.44,1.42,1.38]],[88,[1.75,1.62,1.50,1.42,1.41,1.35,1.34]],[90,[1.54,1.50,1.48,1.45,1.38,1.35]],[91,[1.60,1.53,1.36]],[92,[1.59,1.53,1.44,1.30]],[93,[1.70,1.53]],[94,[1.61,1.53,1.50,1.45,1.42,1.39]],[95,[1.59,1.49,1.43,1.35]],[96,[1.61,1.53,1.50,1.36,1.35,1.33]],[97,[1.56,1.49,1.45,1.42,1.38,1.33,1.27]],[98,[1.55,1.48,1.45,1.41,1.39,1.35]],[100,[1.61,1.59,1.51,1.48,1.42,1.39]],[101,[1.56,1.54,1.47,1.39,1.36]],[102,[1.53,1.42,1.35]],[103,[1.48,1.45,1.41]],[104,[1.53]],[105,[1.54,1.53,1.48,1.44,1.42]],[106,[1.50]],[107,[1.62,1.54,1.44,1.41]],[108,[1.51,1.45,1.38]],[110,[1.53,1.50,1.45,1.39]],[111,[1.52,1.50]],[112,[1.51,1.48,1.39]],[114,[1.44,1.42,1.41]],[115,[1.35,1.33]],[116,[1.44,1.39]],[117,[1.51,1.50,1.47,1.45]],[118,[1.49,1.46,1.45,1.41]],[119,[1.41]],[121,[1.39]],[122,[1.38,1.36,1.33,1.32]],[123,[1.32,1.30]],[124,[1.41,1.38,1.33,1.30,1.29]],[125,[1.46,1.36,1.32,1.29,1.27]],[126,[1.36,1.33,1.30,1.27]],[127,[1.46,1.39,1.36,1.32,1.29,1.26]],[128,[1.46,1.42,1.33,1.30]],[129,[1.39,1.36,1.32,1.29]],[130,[1.38,1.35,1.33,1.30]],[132,[1.41,1.32,1.29,1.27]],[133,[1.41,1.36,1.33,1.31,1.29]],[134,[1.41,1.38,1.34,1.30,1.27]],[135,[1.39,1.36,1.32,1.29]],[136,[1.41,1.38,1.33,1.29,1.26]],[137,[1.36,1.32,1.28]],[138,[1.32,1.30]],[139,[1.30,1.27]],[140,[1.32,1.29,1.26]],[142,[1.30,1.27,1.25]],[143,[1.32,1.29,1.27]],[144,[1.32,1.30,1.26]],[145,[1.45,1.38,1.35,1.32,1.27,1.23]],[146,[1.52,1.35,1.30,1.27]],[147,[1.30,1.29,1.27]],[148,[1.33,1.31,1.27]],[149,[1.36,1.32,1.29]],[150,[1.54,1.38,1.33,1.29,1.26]],[151,[1.38,1.35,1.32,1.30,1.27]],[153,[1.54,1.38,1.33,1.30,1.26]],[154,[1.39,1.35,1.32,1.29]],[155,[1.63,1.57,1.51,1.39,1.36,1.33]],[156,[1.66,1.63,1.60,1.57,1.54,1.53,1.51,1.31,1.29]],[157,[1.61,1.57,1.54,1.35,1.32]],[158,[1.36,1.33,1.29]],[159,[1.38,1.36,1.30,1.24]],[160,[1.44,1.41,1.38,1.33,1.27,1.23]],[161,[1.46,1.39,1.35,1.32,1.29]],[163,[1.62,1.45,1.41,1.36,1.32,1.27]],[164,[1.38,1.33,1.30,1.27,1.23]],[165,[1.39,1.35,1.32,1.29,1.21]],[166,[1.48,1.38,1.33,1.30,1.26]],[167,[1.36,1.33,1.29,1.24,1.20]],[168,[1.65,1.48,1.36,1.32,1.27,1.20,1.18]],[169,[1.38,1.35,1.30,1.26,1.19]],[170,[1.40,1.36,1.32,1.27]],[171,[1.32,1.27,1.23,1.17,1.16]],[173,[1.43,1.36,1.30,1.26]],[174,[1.45,1.35,1.30,1.26,1.16,1.12]],[175,[1.39,1.36,1.33,1.29,1.23,1.17]],[176,[1.42,1.38,1.29,1.24,1.17]],[177,[1.70,1.50,1.41,1.33,1.29,1.24,1.18]],[178,[1.57,1.54,1.51,1.44,1.39,1.35,1.27,1.21]],[179,[1.61,1.59,1.54,1.51,1.48,1.42,1.38,1.32,1.24]],[180,[1.60,1.57,1.53,1.50,1.47,1.44,1.41,1.38,1.35]],[181,[1.57,1.54,1.51,1.48,1.45,1.42,1.39,1.36,1.32,1.27]],[182,[1.59,1.54,1.50,1.45,1.41,1.38,1.33,1.27]],[184,[1.53,1.47,1.41,1.36,1.32,1.27,1.23]],[185,[1.48,1.42,1.38,1.33,1.29]],[186,[1.53,1.45,1.39,1.35,1.30,1.26]],[187,[1.38,1.32,1.27,1.23]],[188,[1.54,1.36,1.32,1.27,1.21]],[189,[1.32,1.27,1.23,1.17]],[190,[1.36,1.32,1.27,1.21,1.18]],[191,[1.35,1.30,1.26,1.21,1.17]],[193,[1.53,1.38,1.33,1.29,1.24,1.20]],[194,[1.53,1.41,1.36,1.32,1.27,1.21,1.17]],[195,[1.39,1.35,1.30,1.26,1.21,1.18]],[196,[1.38,1.33,1.29,1.24,1.20,1.15]],[197,[1.41,1.36,1.32,1.27,1.23,1.18]],[198,[1.38,1.33,1.29,1.24,1.20]],[199,[1.41,1.36,1.30,1.26,1.21]]
];

// tick values and labels
const xMinorTicks = [0.5e-4, 1e-4, 1.5e-4];
const xLabelTicks = [0, 1e-4];
const xLabelTicksLast = [0, 1e-4, 2e-4];
const hcMinorTicks = [0.2, 0.3, 0.4, 0.5, 0.6, 0.7, 0.8];
const hcLabelTicks = [0.2, 0.4, 0.6, 0.8];
const arMinorTicks = [1.1, 1.2, 1.3, 1.4, 1.5, 1.6, 1.7, 1.8, 1.9];
const arLabelTicks = [1.0, 1.2, 1.4, 1.6, 1.8, 2.0];
const pointNames = ["Point (3)", "Point (4)", "Point (5)"];

const FONT = '"Liberation Sans", Arial, Helvetica, sans-serif';
const rows = [
  {data: [hc3, hc4, hc5], lefts: [83, 386, 689], top: 11, w: 303, h: 227, yDomain: [0.15, 0.9],
   yLabels: hcLabelTicks, yMinor: hcMinorTicks, yFont: 24, yPadL: 6, yPadR: 6, xPad: 8, labelDx: [18, 19, 18]},
  {data: [ar3, ar4, ar5], lefts: [88, 388, 688], top: 354, w: 300, h: 223, yDomain: [1, 2],
   yLabels: arLabelTicks, yMinor: arMinorTicks, yFont: 14, yPadL: 10, yPadR: 3, xPad: 6, labelDx: [11, 14, 14]}
];

const fig = document.getElementById("fig");
const ML = 70, MR = 70, MT = 14, MB = 40, TL = 5;
const fmtX = d => d === 0 ? "0.0" : (d * 1e4).toFixed(1) + "x10^-4";

rows.forEach(row => {
  row.data.forEach((data, i) => {
    const pts = data.flatMap(([t, vs]) => vs.map(v => ({t: t * 1e-6, v})));
    const marks = [
      Plot.dot(pts, {x: "t", y: "v", r: 2.4, fill: "#000", stroke: "none"}),
      Plot.tickX(xMinorTicks, {x: d => d, insetTop: row.h - TL, stroke: "#000"}),
      Plot.tickX(xMinorTicks, {x: d => d, insetBottom: row.h - TL, stroke: "#000"}),
      Plot.tickY(row.yMinor, {y: d => d, insetRight: row.w - TL, stroke: "#000"}),
      Plot.tickY(row.yMinor, {y: d => d, insetLeft: row.w - TL, stroke: "#000"}),
      Plot.frame({stroke: "#000", strokeWidth: 1.4}),
      Plot.axisX(i === 2 ? xLabelTicksLast : xLabelTicks, {tickSize: 0, tickPadding: row.xPad, fontSize: 15, label: null, tickFormat: fmtX}),
      Plot.text([pointNames[i]], {frameAnchor: "bottom-left", dx: row.labelDx[i], dy: -19, fontSize: 27, textAnchor: "start", lineAnchor: "bottom", fill: "#000"})
    ];
    if (i === 0) marks.push(Plot.axisY(row.yLabels, {anchor: "left", tickSize: 0, tickPadding: row.yPadL, fontSize: row.yFont, label: null, tickFormat: d => d.toFixed(1)}));
    if (i === 2) marks.push(Plot.axisY(row.yLabels, {anchor: "right", tickSize: 0, tickPadding: row.yPadR, fontSize: row.yFont, label: null, tickFormat: d => d.toFixed(1)}));
    const svg = Plot.plot({
      width: row.w + ML + MR, height: row.h + MT + MB,
      marginLeft: ML, marginRight: MR, marginTop: MT, marginBottom: MB,
      x: {domain: [0, 2e-4], label: null},
      y: i === 1 ? {domain: row.yDomain, label: null, axis: null} : {domain: row.yDomain, label: null},
      style: {background: "transparent", fontFamily: FONT, color: "#000", overflow: "visible"},
      marks
    });
    // x tick labels: size, and superscript exponent
    svg.querySelectorAll("text").forEach(t => {
      const s = t.textContent, k = s.indexOf("^");
      if (s === "0.0" || k >= 0) t.style.fontSize = "15px";
      if (k >= 0) {
        t.textContent = s.slice(0, k);
        const sup = document.createElementNS("http://www.w3.org/2000/svg", "tspan");
        sup.setAttribute("dy", "-0.55em");
        sup.style.fontSize = "12px";
        sup.textContent = s.slice(k + 1);
        t.appendChild(sup);
      }
    });
    svg.style.position = "absolute";
    svg.style.left = (row.lefts[i] - ML) + "px";
    svg.style.top = (row.top - MT) + "px";
    svg.style.maxWidth = "none";
    fig.appendChild(svg);
  });
});

// axis titles
const titles = [
  {text: "H/C Ratio", x: 31, y: 137, rot: true},
  {text: "Aspect Ratio", x: 34, y: 475, rot: true},
  {text: "Time [sec]", x: 232, y: 304}, {text: "Time [sec]", x: 546, y: 304}, {text: "Time [sec]", x: 849, y: 304},
  {text: "Time [sec]", x: 232, y: 649}, {text: "Time [sec]", x: 541, y: 649}, {text: "Time [sec]", x: 848, y: 649}
];
const ov = d3.select(fig).append("svg").attr("width", 1034).attr("height", 654)
  .style("position", "absolute").style("left", "0px").style("top", "0px").style("font-family", FONT);
ov.selectAll("text").data(titles).join("text")
  .attr("transform", d => `translate(${d.x},${d.y})` + (d.rot ? " rotate(-90)" : ""))
  .attr("text-anchor", "middle").attr("font-size", 24).attr("fill", "#000")
  .text(d => d.text);
</script></body></html>
